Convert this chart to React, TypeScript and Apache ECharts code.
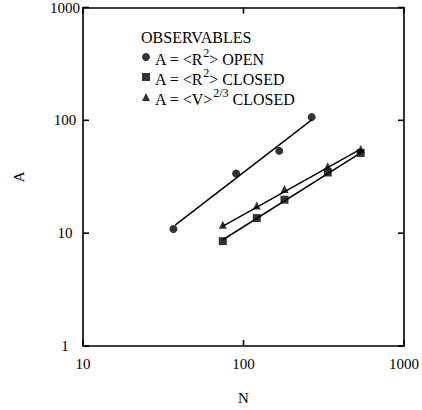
import React, { useEffect, useRef } from "react";
import * as echarts from "echarts";

const FONT = "Liberation Serif";

const openN = [36.6, 90, 167, 266];
const openA = [10.9, 33.8, 53.6, 106.7];
const closedN = [74.3, 121, 180, 335, 537];
const closedR2 = [8.5, 13.6, 19.8, 34.5, 51.4];
const closedV = [11.9, 17.6, 24.6, 39.2, 55.7];

const fitOpenN = [37.5, 266];
const fitOpenA = [11.8, 101];
const fitClosedN = [74, 537];
const fitClosedR2 = [8.7, 51.5];
const fitClosedV = [11.5, 55.5];

const xTickValues = [10, 100, 1000];
const yTickValues = [1, 10, 100, 1000];
const X_MIN = 10;
const X_MAX = 1000;
const Y_MIN = 1;
const Y_MAX = 1000;

const legendTitle = "OBSERVABLES";
const seriesNames = ["openR2", "closedR2", "closedV"];
const legendLabels: Record<string, string> = {
  openR2: "{b|A = <R}{s|2}{b|> OPEN}",
  closedR2: "{b|A = <R}{s|2}{b|> CLOSED}",
  closedV: "{b|A = <V>}{s|2/3}{b| CLOSED}",
};

const zip = (xs: number[], ys: number[]) => xs.map((x, i) => [x, ys[i]]);
const plain = (v: number) => String(Math.round(v));
const TICK = 6;
const tickStyle = { stroke: "#000", lineWidth: 1.6 };

export default function App() {
  const ref = useRef<HTMLDivElement>(null);
  useEffect(() => {
    if (!ref.current) return;
    const chart = echarts.init(ref.current, undefined, { renderer: "svg" });
    const axisCommon = {
      type: "log" as const,
      logBase: 10,
      axisLine: { show: true, lineStyle: { color: "#000", width: 1.6 } },
      axisTick: { show: false },
      minorTick: { show: false },
      splitLine: { show: false },
    };
    const lineSeries = (xs: number[], ys: number[]) => ({
      type: "line",
      data: zip(xs, ys),
      symbol: "none",
      lineStyle: { color: "#000", width: 1.5 },
      silent: true,
      z: 1,
    });
    chart.setOption({
      animation: false,
      backgroundColor: "#fff",
      textStyle: { fontFamily: FONT },
      grid: { left: 83, right: 18, top: 6, bottom: 63 },
      xAxis: [
        {
          ...axisCommon,
          min: X_MIN,
          max: X_MAX,
          position: "bottom",
          axisLabel: { color: "#000", fontSize: 15, fontFamily: FONT, margin: 10, formatter: plain },
          name: "N",
          nameLocation: "middle",
          nameGap: 44,
          nameTextStyle: { color: "#000", fontSize: 15, fontFamily: FONT },
        },
        {
          ...axisCommon,
          min: X_MIN,
          max: X_MAX,
          position: "top",
          axisLabel: { show: false },
        },
      ],
      yAxis: [
        {
          ...axisCommon,
          min: Y_MIN,
          max: Y_MAX,
          position: "left",
          axisLabel: { color: "#000", fontSize: 15, fontFamily: FONT, margin: 18, align: "center", formatter: plain },
          name: "A",
          nameLocation: "middle",
          nameGap: 57,
          nameRotate: 90,
          nameTextStyle: { color: "#000", fontSize: 15, fontFamily: FONT },
        },
        {
          ...axisCommon,
          min: Y_MIN,
          max: Y_MAX,
          position: "right",
          axisLabel: { show: false },
        },
      ],
      legend: {
        left: 142,
        top: 47,
        padding: 0,
        orient: "vertical",
        itemGap: 0,
        itemWidth: 8,
        itemHeight: 8,
        selectedMode: false,
        data: [
          { name: seriesNames[0], icon: "circle" },
          { name: seriesNames[1], icon: "rect" },
          { name: seriesNames[2], icon: "triangle" },
        ],
        formatter: (name: string) => legendLabels[name],
        textStyle: {
          color: "#000",
          fontFamily: FONT,
          fontSize: 16,
          rich: {
            b: { fontSize: 16, fontFamily: FONT, color: "#000", lineHeight: 19, verticalAlign: "bottom" },
            s: { fontSize: 12, fontFamily: FONT, color: "#000", verticalAlign: "bottom", padding: [0, 0, 8, 0] },
          },
        },
      },
      graphic: [
        {
          type: "text",
          left: 141,
          top: 29,
          style: { text: legendTitle, fill: "#000", fontSize: 16, fontFamily: FONT },
        },
      ],
      series: [
        {
          type: "custom",
          silent: true,
          z: 5,
          data: xTickValues.map((v) => [v, Y_MIN]),
          renderItem: (params: any, api: any) => {
            const v = api.value(0);
            const b = api.coord([v, Y_MIN]);
            const t = api.coord([v, Y_MAX]);
            return {
              type: "group",
              children: [
                { type: "line", shape: { x1: b[0], y1: b[1], x2: b[0], y2: b[1] - TICK }, style: tickStyle },
                { type: "line", shape: { x1: t[0], y1: t[1], x2: t[0], y2: t[1] + TICK }, style: tickStyle },
              ],
            };
          },
        },
        {
          type: "custom",
          silent: true,
          z: 5,
          data: yTickValues.map((v) => [X_MIN, v]),
          renderItem: (params: any, api: any) => {
            const v = api.value(1);
            const l = api.coord([X_MIN, v]);
            const r = api.coord([X_MAX, v]);
            return {
              type: "group",
              children: [
                { type: "line", shape: { x1: l[0], y1: l[1], x2: l[0] + TICK, y2: l[1] }, style: tickStyle },
                { type: "line", shape: { x1: r[0], y1: r[1], x2: r[0] - TICK, y2: r[1] }, style: tickStyle },
              ],
            };
          },
        },
        lineSeries(fitOpenN, fitOpenA),
        lineSeries(fitClosedN, fitClosedR2),
        lineSeries(fitClosedN, fitClosedV),
        {
          name: seriesNames[0],
          type: "scatter",
          data: zip(openN, openA),
          symbol: "circle",
          symbolSize: 8,
          itemStyle: { color: "#000" },
          z: 3,
        },
        {
          name: seriesNames[1],
          type: "scatter",
          data: zip(closedN, closedR2),
          symbol: "rect",
          symbolSize: 8,
          itemStyle: { color: "#000" },
          z: 3,
        },
        {
          name: seriesNames[2],
          type: "scatter",
          data: zip(closedN, closedV),
          symbol: "triangle",
          symbolSize: 8,
          itemStyle: { color: "#000" },
          z: 3,
        },
      ],
    });
    return () => chart.dispose();
  }, []);
  return (
    <div
      ref={ref}
      style={{ position: "fixed", left: 0, top: 0, width: 422, height: 410, background: "#fff" }}
    />
  );
}
